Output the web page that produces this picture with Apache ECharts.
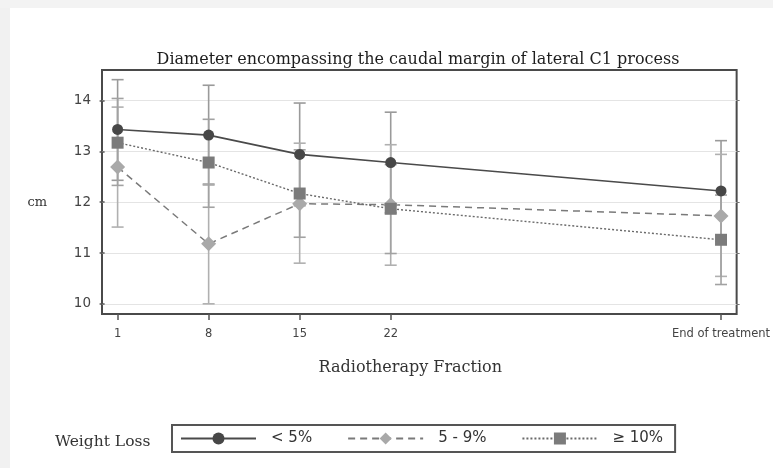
<!DOCTYPE html>
<html>
<head>
<meta charset="utf-8">
<script src="https://cdn.jsdelivr.net/npm/echarts@6/dist/echarts.min.js"></script>
<style>
html,body{margin:0;padding:0;background:#fff;}
#chart{width:773px;height:468px;}
</style>
</head>
<body>
<div id="chart"></div>
<script>
// ---- data ----
const categories = ['1', '8', '15', '22', 'End of treatment'];
const xPositions = [1, 8, 15, 22, 47.4];
const yTicks = [10, 11, 12, 13, 14];

const seriesNames = ['< 5%', '5 - 9%', '≥ 10%'];

const lt5Mean = [13.43, 13.32, 12.94, 12.78, 12.22];
const lt5Low  = [12.43, 12.34, 11.93, 11.79, 11.23];
const lt5High = [14.41, 14.30, 13.95, 13.77, 13.21];

const midMean = [12.69, 11.18, 11.97, 11.95, 11.73];
const midLow  = [11.51, 10.00, 10.80, 10.76, 10.54];
const midHigh = [13.87, 12.36, 13.16, 13.13, 12.94];

const ge10Mean = [13.17, 12.78, 12.17, 11.87, 11.26];
const ge10Low  = [12.33, 11.90, 11.31, 10.99, 10.38];
const ge10High = [14.04, 13.63, 13.03, 12.74, 12.14];

// ---- build ----
const labelFor = {};
xPositions.forEach((x, i) => { labelFor[x] = categories[i]; });

function pts(mean) { return xPositions.map((x, i) => [x, mean[i]]); }
function bars(lo, hi) { return xPositions.map((x, i) => [x, lo[i], hi[i]]); }

function errorBar(name, lo, hi, color) {
  return {
    type: 'custom',
    name: name + ' CI',
    data: bars(lo, hi),
    encode: { x: 0, y: [1, 2] },
    z: 1,
    silent: true,
    renderItem: function (params, api) {
      const x = api.value(0);
      const pLo = api.coord([x, api.value(1)]);
      const pHi = api.coord([x, api.value(2)]);
      const hw = 6;
      const st = { stroke: color, lineWidth: 1.6 };
      return {
        type: 'group',
        children: [
          { type: 'line', shape: { x1: pLo[0], y1: pLo[1], x2: pHi[0], y2: pHi[1] }, style: st },
          { type: 'line', shape: { x1: pLo[0] - hw, y1: pLo[1], x2: pLo[0] + hw, y2: pLo[1] }, style: st },
          { type: 'line', shape: { x1: pHi[0] - hw, y1: pHi[1], x2: pHi[0] + hw, y2: pHi[1] }, style: st }
        ]
      };
    }
  };
}

const chart = echarts.init(document.getElementById('chart'), null, { renderer: 'canvas' });

const option = {
  backgroundColor: '#ffffff',
  animation: false,
  graphic: [
    { type: 'rect', left: 0, top: 0, shape: { width: 10, height: 468 }, style: { fill: '#f1f1f1' }, silent: true, z: -10 },
    { type: 'rect', left: 0, top: 0, shape: { width: 773, height: 8 }, style: { fill: '#f3f3f3' }, silent: true, z: -10 }
  ],
  title: [
    {
      text: 'Diameter encompassing the caudal margin of lateral C1 process',
      left: 413, top: 47, textAlign: 'center',
      textStyle: { fontFamily: 'DejaVu Serif', fontSize: 16, fontWeight: 'normal', color: '#1e1e1e' }
    },
    {
      text: 'Weight Loss',
      left: 50, top: 429,
      textStyle: { fontFamily: 'DejaVu Serif', fontSize: 15.5, fontWeight: 'normal', color: '#333' }
    }
  ],
  legend: {
    data: seriesNames,
    left: 172, top: 425,
    orient: 'horizontal',
    itemWidth: 75, itemHeight: 15, itemGap: 35,
    borderColor: '#555', borderWidth: 2, borderRadius: 0,
    padding: [6, 12, 6, 8],
    textStyle: { fontFamily: 'DejaVu Sans', fontSize: 15, color: '#333', padding: [0, 0, 0, 10] }
  },
  grid: {
    left: 102, right: 36, top: 70, bottom: 154,
    show: true, borderColor: '#4a4a4a', borderWidth: 2, backgroundColor: 'transparent'
  },
  xAxis: {
    type: 'value',
    min: -0.2, max: 48.6,
    name: 'Radiotherapy Fraction',
    nameLocation: 'middle', nameGap: 46,
    nameTextStyle: { fontFamily: 'DejaVu Serif', fontSize: 16, color: '#333', padding: [0, 18, 0, 0] },
    axisLine: { show: false },
    axisTick: { show: true, customValues: xPositions, length: 6, lineStyle: { color: '#555', width: 1.5 } },
    axisLabel: {
      customValues: xPositions, margin: 14,
      fontFamily: 'DejaVu Sans', fontSize: 11.5, color: '#444',
      formatter: function (v) { return labelFor[v] !== undefined ? labelFor[v] : ''; }
    },
    splitLine: { show: false }
  },
  yAxis: [
    {
      type: 'value',
      min: 9.8, max: 14.6,
      name: 'cm',
      nameLocation: 'middle', nameGap: 55, nameRotate: 0,
      nameTextStyle: { fontFamily: 'DejaVu Serif', fontSize: 13, color: '#333', verticalAlign: 'top', padding: [4, 0, 0, 0] },
      axisLine: { show: false },
      axisTick: { show: true, customValues: yTicks, length: 5, lineStyle: { color: '#555', width: 1.5 } },
      axisLabel: { customValues: yTicks, margin: 11, fontFamily: 'DejaVu Sans', fontSize: 13.5, color: '#444' },
      splitLine: { show: true, lineStyle: { color: '#e4e4e4', width: 1.2 } }
    },
    {
      type: 'value', position: 'right',
      min: 9.8, max: 14.6,
      axisLine: { show: false },
      axisTick: { show: true, customValues: yTicks, length: 3, lineStyle: { color: '#777', width: 1 } },
      axisLabel: { show: false },
      splitLine: { show: false }
    }
  ],
  series: [
    errorBar(seriesNames[0], lt5Low, lt5High, '#9a9a9a'),
    errorBar(seriesNames[1], midLow, midHigh, '#b0b0b0'),
    errorBar(seriesNames[2], ge10Low, ge10High, '#a2a2a2'),
    {
      type: 'line', name: seriesNames[0], data: pts(lt5Mean), z: 5,
      symbol: 'circle', symbolSize: 11,
      itemStyle: { color: '#474747' },
      lineStyle: { color: '#4a4a4a', width: 1.7, type: 'solid' }
    },
    {
      type: 'line', name: seriesNames[1], data: pts(midMean), z: 4,
      symbol: 'diamond', symbolSize: 15,
      itemStyle: { color: '#a9a9a9' },
      lineStyle: { color: '#7a7a7a', width: 1.5, type: [7, 5] }
    },
    {
      type: 'line', name: seriesNames[2], data: pts(ge10Mean), z: 4,
      symbol: 'rect', symbolSize: 12,
      itemStyle: { color: '#7b7b7b' },
      lineStyle: { color: '#6a6a6a', width: 1.4, type: [2, 2] }
    }
  ]
};
chart.setOption(option);
</script>
</body>
</html>
